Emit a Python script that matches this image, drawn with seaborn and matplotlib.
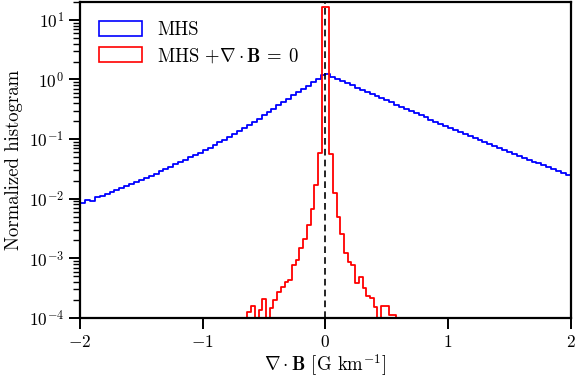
import numpy as np
import pandas as pd
import matplotlib
matplotlib.use("Agg")
import matplotlib.pyplot as plt
from matplotlib.patches import Patch
import seaborn as sns

# -------------------------------
# Data
# -------------------------------
# MHS: 100 bins over [-2, 2]
blue_edges = np.linspace(-2, 2, 101)
blue_vals = [
    0.00843, 0.0095, 0.0093, 0.0105, 0.0113, 0.0122, 0.0131, 0.0141, 0.0152, 0.0163,
    0.0176, 0.0189, 0.0203, 0.0219, 0.0239, 0.0262, 0.0286, 0.0313, 0.0343, 0.0376,
    0.0411, 0.0450, 0.0492, 0.0538, 0.0589, 0.0649, 0.0720, 0.0799, 0.0886, 0.0983,
    0.109, 0.121, 0.134, 0.151, 0.171, 0.195, 0.221, 0.251, 0.286, 0.324,
    0.369, 0.419, 0.476, 0.540, 0.612, 0.695, 0.789, 0.895, 1.02, 1.18,
    1.25, 1.11, 1.02, 0.940, 0.863, 0.794, 0.731, 0.674, 0.621, 0.572,
    0.526, 0.485, 0.447, 0.411, 0.378, 0.348, 0.321, 0.295, 0.272, 0.250,
    0.230, 0.212, 0.195, 0.179, 0.165, 0.152, 0.141, 0.131, 0.121, 0.112,
    0.104, 0.0962, 0.0891, 0.0826, 0.0764, 0.0708, 0.0657, 0.0610, 0.0566, 0.0525,
    0.0488, 0.0453, 0.0420, 0.0390, 0.0361, 0.0336, 0.0312, 0.0289, 0.0269, 0.0249,
]

# MHS + div B = 0: bins of width 4/132, from bin -22 to bin 19 (relative to 0)
red_width = 4 / 132
red_first_bin = -22
red_vals = [
    0.0,
    1.28e-4, 1.6e-4, 0.0, 1.37e-4, 2.1e-4, 0.0, 1.48e-4, 2.0e-4, 2.77e-4, 3.36e-4,
    4.07e-4, 4.4e-4, 7.8e-4, 9.2e-4, 1.47e-3, 2.1e-3, 3.6e-3, 6.6e-3, 0.017, 0.058,
    16.6, 16.6,
    0.056, 0.0126, 0.0049, 0.0026, 1.22e-3, 8.8e-4, 7.8e-4, 3.8e-4, 4.8e-4, 3.2e-4,
    2.35e-4, 2.15e-4, 1.55e-4, 0.0, 1.6e-4, 1.6e-4, 1.12e-4, 1.12e-4,
    0.0,
]
red_edges = (red_first_bin + np.arange(len(red_vals) + 1)) * red_width

labels = ["MHS", r"MHS $+\nabla\cdot\mathbf{B}\,=\;0$"]
colors = ["#0000ff", "#ff0000"]

# -------------------------------
# Style
# -------------------------------
sns.set_style("ticks")
plt.rcParams["font.family"] = "serif"
plt.rcParams["font.serif"] = ["cmr10", "DejaVu Serif"]
plt.rcParams["mathtext.fontset"] = "cm"
plt.rcParams["axes.formatter.use_mathtext"] = True
plt.rcParams["axes.unicode_minus"] = True
for key in ["axes.edgecolor", "xtick.color", "ytick.color", "text.color",
            "axes.labelcolor"]:
    plt.rcParams[key] = "black"

fig = plt.figure(figsize=(5.76, 3.78), dpi=100)
ax = fig.add_axes([0.139, 0.159, 0.852, 0.836])

# -------------------------------
# Histograms
# -------------------------------
for edges, vals, color in [(blue_edges, blue_vals, colors[0]),
                           (red_edges, red_vals, colors[1])]:
    df = pd.DataFrame({"x": 0.5 * (edges[:-1] + edges[1:]), "w": vals})
    sns.histplot(data=df, x="x", weights="w", bins=list(edges), element="step",
                 fill=False, color=color, linewidth=1.3, ax=ax)

ax.axvline(0, color="black", ls="--", lw=1.2, dashes=(4, 2.5))

ax.set_yscale("log")
ax.set_xlim(-2, 2)
ax.set_ylim(1e-4, 20)
ax.set_xticks([-2, -1, 0, 1, 2])

ax.set_xlabel(r"$\nabla\cdot\mathbf{B}$ [G km$^{-1}$]", fontsize=13.5, labelpad=2)
ax.set_ylabel("Normalized histogram", fontsize=13.5, labelpad=4)

for side in ax.spines.values():
    side.set_linewidth(1.6)
ax.tick_params(which="major", length=8, width=1.4, labelsize=12.5, direction="out",
               top=False, right=False)
ax.tick_params(which="minor", length=5, width=1.0, direction="out",
               top=False, right=False)
ax.tick_params(axis="x", which="minor", bottom=False)

handles = [Patch(facecolor="none", edgecolor=c, linewidth=1.2) for c in colors]
ax.legend(handles, labels, loc="upper left", frameon=False, fontsize=13.5,
          handlelength=2.3, handleheight=0.85, handletextpad=0.8,
          borderaxespad=0.6, labelspacing=0.42)

fig.savefig("out.png", dpi=100)
